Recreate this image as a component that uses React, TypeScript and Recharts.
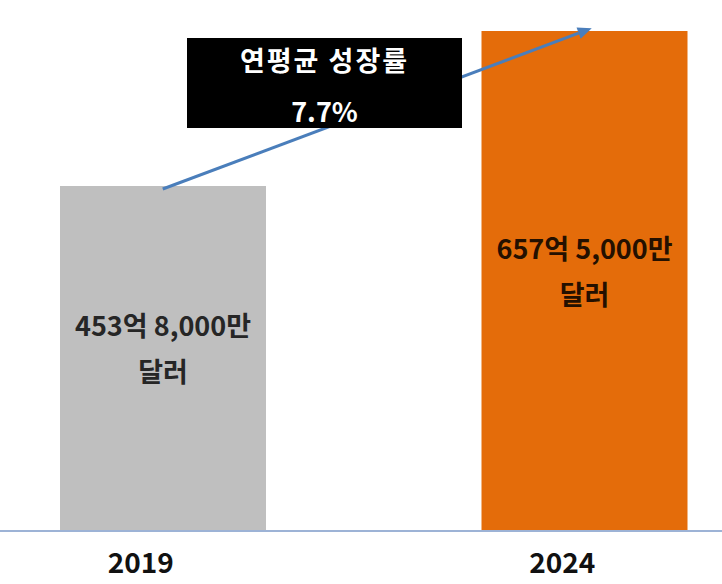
import React from "react";
import {
  BarChart,
  Bar,
  XAxis,
  YAxis,
  Cell,
  LabelList,
  ReferenceLine,
} from "recharts";

// market size, in 억 달러
const years = ["2019", "2024"];
const marketValues = [453.8, 657.5];
const valueLabels = ["453억 8,000만", "657억 5,000만"];
const unitLabel = "달러";
const barColors = ["#BFBFBF", "#E46C0A"];
const labelColors = ["#262626", "#241000"];
const cagrTitle = "연평균 성장률";
const cagrValue = "7.7%";

const FONT = '"Noto Sans CJK KR", "Noto Sans", sans-serif';

const data = years.map((year, i) => ({ year, value: marketValues[i] }));

const YearTick = ({ x, y, payload }: any) => (
  <text
    x={x - 22}
    y={y + 22}
    textAnchor="middle"
    dominantBaseline="central"
    fontFamily={FONT}
    fontWeight={700}
    fontSize={28}
    fill="#111"
  >
    {payload.value}
  </text>
);

const BarValueLabel = (props: any) => {
  const { x, y, width, height, index } = props;
  const cx = x + width / 2;
  const cy = y + height / 2;
  const common = {
    x: cx,
    textAnchor: "middle" as const,
    dominantBaseline: "central" as const,
    fontFamily: FONT,
    fontWeight: 700,
    fontSize: 27,
    fill: labelColors[index],
  };
  return (
    <g>
      <text {...common} y={cy - 34}>{valueLabels[index]}</text>
      <text {...common} y={cy + 12}>{unitLabel}</text>
    </g>
  );
};

// growth arrow drawn from bar top to bar top
const GrowthArrow = (props: any) => {
  const { x1, y1, x2, y2 } = props;
  const dx = x2 - x1;
  const dy = y2 - y1;
  const len = Math.sqrt(dx * dx + dy * dy);
  const ux = dx / len;
  const uy = dy / len;
  const tipX = x2 + ux * 8;
  const tipY = y2 + uy * 8;
  const baseX = tipX - ux * 14;
  const baseY = tipY - uy * 14;
  const px = -uy * 6;
  const py = ux * 6;
  return (
    <g>
      <line x1={x1} y1={y1 + 3} x2={baseX} y2={baseY} stroke="#4A7EBB" strokeWidth={3} />
      <polygon
        points={`${tipX},${tipY} ${baseX + px},${baseY + py} ${baseX - px},${baseY - py}`}
        fill="#4A7EBB"
      />
    </g>
  );
};

export default function App() {
  return (
    <div
      style={{
        position: "absolute",
        left: 0,
        top: 0,
        width: 722,
        height: 584,
        overflow: "hidden",
        background: "#fff",
        fontFamily: FONT,
      }}
    >
      <div style={{ position: "absolute", left: -48, top: 0 }}>
        <BarChart
          width={843}
          height={584}
          data={data}
          margin={{ top: 14, right: 0, left: 0, bottom: 0 }}
        >
          <XAxis
            dataKey="year"
            height={53}
            interval={0}
            tickLine={false}
            axisLine={{ stroke: "#9DB3D6", strokeWidth: 2 }}
            tick={<YearTick />}
          />
          <YAxis hide domain={[0, 680]} />
          <Bar dataKey="value" barSize={206} isAnimationActive={false}>
            {data.map((entry, index) => (
              <Cell key={`cell-${index}`} fill={barColors[index]} />
            ))}
            <LabelList dataKey="value" content={<BarValueLabel />} />
          </Bar>
          <ReferenceLine
            segment={[
              { x: years[0], y: marketValues[0] },
              { x: years[1], y: marketValues[1] },
            ]}
            ifOverflow="visible"
            shape={<GrowthArrow />}
          />
        </BarChart>
      </div>
      <div
        style={{
          position: "absolute",
          left: 187,
          top: 38,
          width: 275,
          height: 90,
          background: "#000",
          color: "#fff",
          fontWeight: 700,
          fontSize: 27,
          textAlign: "center",
        }}
      >
        <div
          style={{
            position: "absolute",
            left: 0,
            right: 0,
            top: 2,
            height: 40,
            lineHeight: "40px",
            letterSpacing: 2,
          }}
        >
          {cagrTitle}
        </div>
        <div style={{ position: "absolute", left: 0, right: 0, top: 53, height: 40, lineHeight: "40px" }}>
          {cagrValue}
        </div>
      </div>
    </div>
  );
}
